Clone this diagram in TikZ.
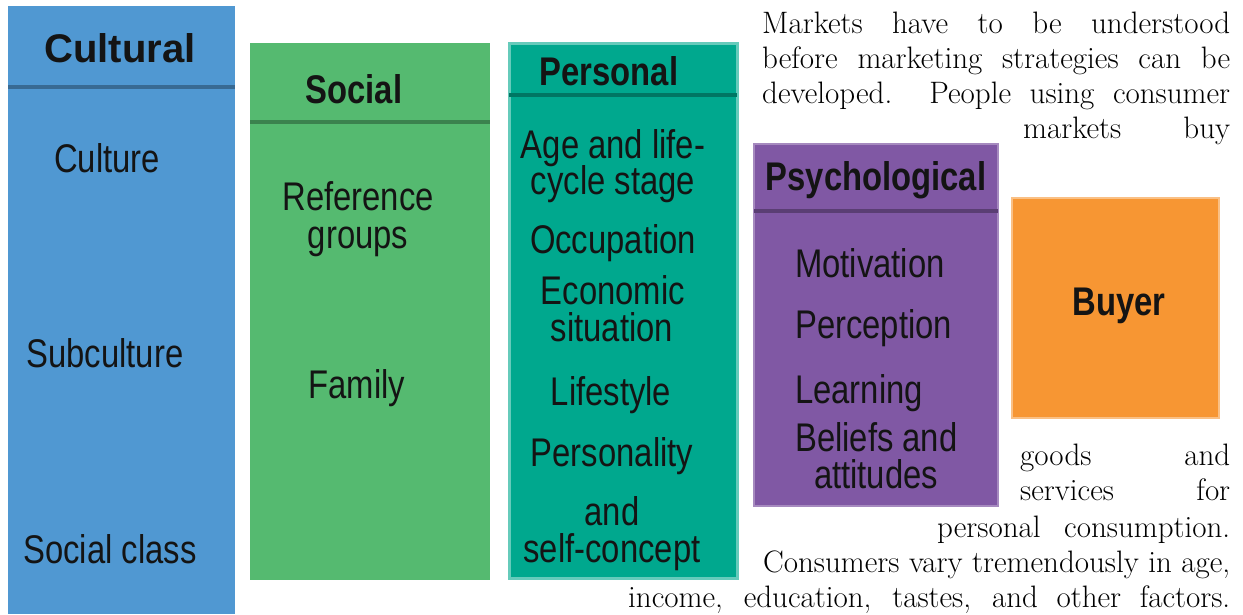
\documentclass[tikz,border=0pt]{standalone}
\usepackage{fontspec}
\newfontfamily\boxfont[FakeStretch=0.82]{Liberation Sans}
\definecolor{cblue}{RGB}{80,152,210}
\definecolor{cgreen}{RGB}{85,186,112}
\definecolor{cteal}{RGB}{0,168,142}
\definecolor{cpurple}{RGB}{128,88,164}
\definecolor{corange}{RGB}{247,150,51}
\definecolor{ink}{RGB}{20,20,20}
\begin{document}
\begin{tikzpicture}[x=1pt,y=-1pt,
  panel/.style={draw=none, inner sep=0pt, outer sep=0pt, anchor=north west},
  item/.style={font=\boxfont\fontsize{40}{44}\selectfont, inner sep=0pt, anchor=base, text=ink},
  lefti/.style={item, anchor=base west},
  head/.style={item, font=\boxfont\bfseries\fontsize{40}{44}\selectfont},
  para/.style={font=\fontsize{31}{35}\selectfont, inner sep=0pt, anchor=base west, text=black},
  sepline/.style={line width=4pt}]
\useasboundingbox (0,0) rectangle (1243,614);
\fill[white] (0,0) rectangle (1243,614);

% panels
\node[panel, fill=cblue, minimum width=227pt, minimum height=608pt] (cult) at (8,6) {};
\node[panel, fill=cgreen, minimum width=240pt, minimum height=537pt] (soc) at (250,43) {};
\node[panel, fill=cteal, draw=cteal!60!white, line width=3pt, minimum width=228pt, minimum height=535pt] (pers) at (509,43) {};
\node[panel, fill=cpurple, draw=cpurple!70!white, line width=2pt, minimum width=244pt, minimum height=362pt] (psy) at (754,144) {};
\node[panel, fill=corange, draw=corange!60!white, line width=2pt, minimum width=207pt, minimum height=220pt] (buy) at (1012,198) {};

% separators
\coordinate (cs1) at (8,87);   \coordinate (cs2) at (235,87);
\coordinate (ss1) at (250,122); \coordinate (ss2) at (490,122);
\coordinate (ps1) at (509,95);  \coordinate (ps2) at (737,95);
\coordinate (ys1) at (754,211); \coordinate (ys2) at (998,211);
\draw[sepline, cblue!70!black] (cs1) -- (cs2);
\draw[sepline, cgreen!70!black] (ss1) -- (ss2);
\draw[sepline, cteal!70!black] (ps1) -- (ps2);
\draw[sepline, cpurple!70!black] (ys1) -- (ys2);

% Cultural
\node[head] (hcult) at (120,62) {\scalebox{1.22}[1]{Cultural}};
\node[item] (culture) at (107,172) {Culture};
\node[item] (subculture) at (105,367) {Subculture};
\node[item] (socclass) at (110,563) {Social class};

% Social
\node[head] (hsoc) at (354,103) {Social};
\node[item] (ref) at (358,210) {Reference};
\node[item] (groups) at (358,248) {groups};
\node[item] (family) at (357,398) {Family};

% Personal
\node[head] (hpers) at (609,85) {Personal};
\node[item] (age) at (613,158) {Age and life-};
\node[item] (cycle) at (613,194) {cycle stage};
\node[item] (occ) at (613,253) {Occupation};
\node[item] (eco) at (613,304) {Economic};
\node[item] (sit) at (612,341) {situation};
\node[item] (life) at (611,405) {Lifestyle};
\node[item] (persy) at (612,466) {Personality};
\node[item] (and) at (612,525) {and};
\node[item] (self) at (612,562) {self-concept};

% Psychological
\node[head] (hpsy) at (876,190) {Psychological};
\node[lefti] (mot) at (795,277) {Motivation};
\node[lefti] (perc) at (795,338) {Perception};
\node[lefti] (learn) at (795,403) {Learning};
\node[lefti] (bel) at (795,451) {Beliefs and};
\node[item] (att) at (876,488) {attitudes};

% Buyer
\node[head] (hbuy) at (1119,315) {Buyer};

% paragraph
\node[para] (p1) at (762,33) {\makebox[468pt][s]{Markets have to be understood}};
\node[para] (p2) at (762,68) {\makebox[468pt][s]{before marketing strategies can be}};
\node[para] (p3) at (762,103) {\makebox[468pt][s]{developed.\ \ People using consumer}};
\node[para] (p4) at (1023,138) {\makebox[207pt][s]{markets buy}};
\node[para] (p5) at (1020,465) {\makebox[210pt][s]{goods and}};
\node[para] (p6) at (1020,500) {\makebox[210pt][s]{services for}};
\node[para] (p7) at (937,537) {\makebox[293pt][s]{personal consumption.}};
\node[para] (p8) at (763,572) {\makebox[467pt][s]{Consumers vary tremendously in age,}};
\node[para] (p9) at (628,607) {\makebox[602pt][s]{income, education, tastes, and other factors.}};
\end{tikzpicture}
\end{document}
